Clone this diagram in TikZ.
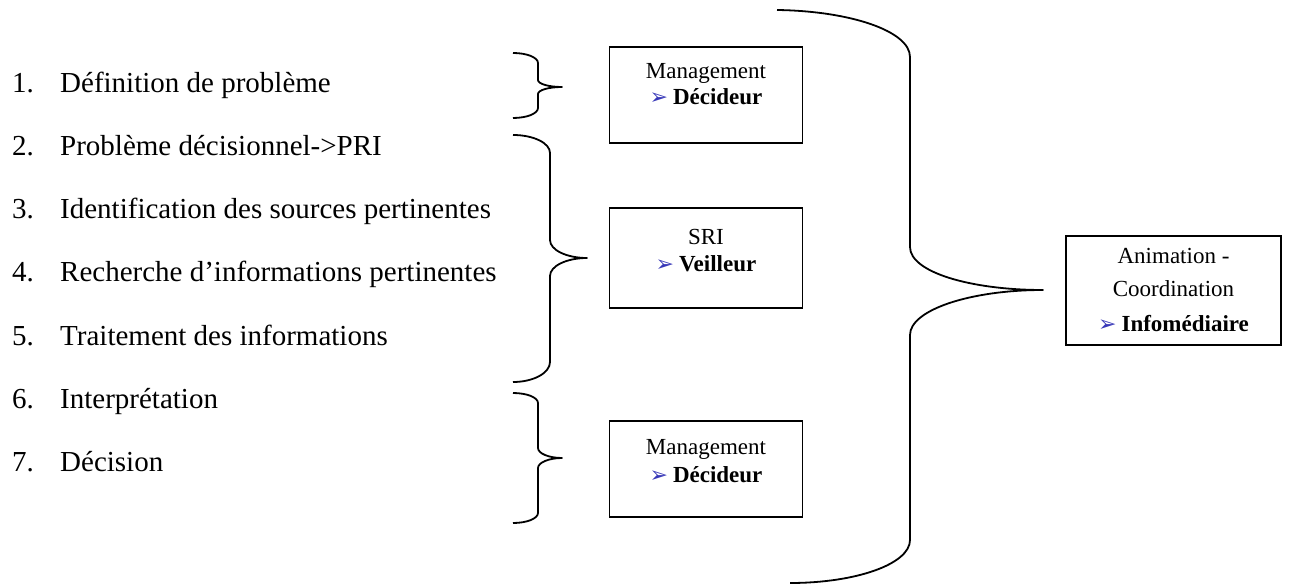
\documentclass[tikz,border=0pt]{standalone}
\usepackage{fontspec}
\setmainfont{Liberation Serif}
\newfontfamily\dvs{DejaVu Sans}
\definecolor{arrowblue}{rgb}{0.22,0.22,0.72}
\newcommand{\listfont}{\fontsize{29}{34}\selectfont}
\newcommand{\boxfont}{\fontsize{23}{27}\selectfont}
\newcommand{\bul}{{\color{arrowblue}\dvs\fontsize{22}{22}\selectfont ➢}\hspace{5pt}}
\begin{document}
\begin{tikzpicture}[x=1pt,y=-1pt,
  frame/.style={draw, line width=1.6pt, inner sep=0pt},
  btxt/.style={font=\boxfont, anchor=base, inner sep=0pt},
  num/.style={font=\listfont, anchor=base west, inner sep=0pt},
  item/.style={font=\listfont, anchor=base west, inner sep=0pt},
  bracestyle/.style={line width=1.8pt, line join=round}]
\useasboundingbox (0,0) rectangle (1290,585);

% list
\foreach \n/\t in {1/Définition de problème,
                   2/Problème décisionnel->PRI,
                   3/Identification des sources pertinentes,
                   4/Recherche d’informations pertinentes,
                   5/Traitement des informations,
                   6/Interprétation,
                   7/Décision}{
  \pgfmathsetmacro{\yy}{85+63*(\n-1)+8}
  \node[num] (n\n) at (12,\yy) {\n.};
  \node[item] (i\n) at (60,\yy) {\t};
}

% small braces
\draw[bracestyle] (513,53) .. controls (527,53) and (538,57.5) .. (538,63) -- (538,80)
  .. controls (538,84) and (549,87) .. (562,87)
  .. controls (549,87) and (538,90) .. (538,94) -- (538,108)
  .. controls (538,113.5) and (527,118) .. (513,118);
\draw[bracestyle] (513,135) .. controls (533.4,135) and (550,143) .. (550,153) -- (550,240)
  .. controls (550,250) and (566.6,258) .. (587,258)
  .. controls (566.6,258) and (550,266) .. (550,276) -- (550,362)
  .. controls (550,373) and (533.4,382) .. (513,382);
\draw[bracestyle] (513,393) .. controls (527,393) and (538,397.5) .. (538,403) -- (538,448)
  .. controls (538,453.5) and (549,458) .. (562,458)
  .. controls (549,458) and (538,462.5) .. (538,468) -- (538,513)
  .. controls (538,518.5) and (527,523) .. (513,523);

% big brace
\draw[bracestyle] (777,10) .. controls (850,11) and (910,31) .. (910,57) -- (910,247)
  .. controls (910,272) and (970,290) .. (1043,290)
  .. controls (970,290) and (910,310) .. (910,335) -- (910,540)
  .. controls (910,564) and (856,583) .. (790,583);

% boxes
\node[frame, minimum width=193pt, minimum height=96pt] (b1) at (706,95) {};
\node[btxt] (b1a) at (706,79) {Management};
\node[btxt] (b1b) at (706,105) {\bul\textbf{Décideur}};

\node[frame, minimum width=193pt, minimum height=100pt] (b2) at (706,258) {};
\node[btxt] (b2a) at (706,245) {SRI};
\node[btxt] (b2b) at (706,272) {\bul\textbf{Veilleur}};

\node[frame, minimum width=193pt, minimum height=96pt] (b3) at (706,469) {};
\node[btxt] (b3a) at (706,454) {Management};
\node[btxt] (b3b) at (706,482) {\bul\textbf{Décideur}};

\node[frame, minimum width=215pt, minimum height=109pt] (b4) at (1173.5,290.5) {};
\node[btxt] (b4a) at (1173.5,264) {Animation -};
\node[btxt] (b4b) at (1173.5,297) {Coordination};
\node[btxt] (b4c) at (1173.5,331) {\bul\textbf{Infomédiaire}};
\end{tikzpicture}
\end{document}
